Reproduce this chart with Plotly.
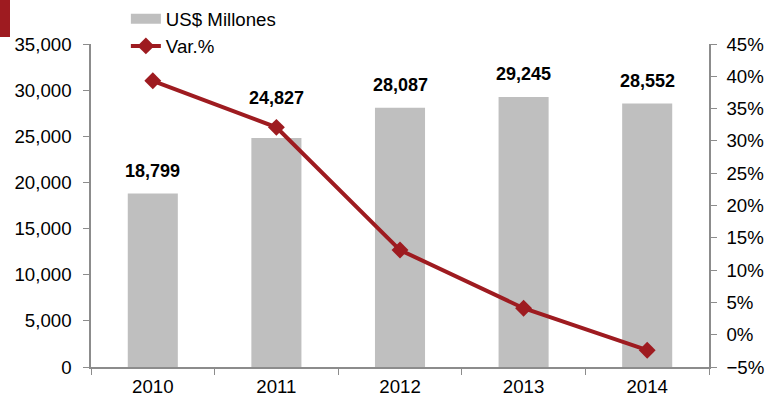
import plotly.graph_objects as go

years = ["2010", "2011", "2012", "2013", "2014"]
usd_millones = [18799, 24827, 28087, 29245, 28552]
var_pct = [39.3, 32.1, 13.1, 4.1, -2.4]
bar_labels = ["18,799", "24,827", "28,087", "29,245", "28,552"]

# style: extra lift (px) for labels that would collide with the line
LABEL_LIFT = [0, 17, 0, 0, 0]

RED = "#9E1B20"
GRAY = "#BFBFBF"
AXIS = "#8C8C8C"
FONT = "Liberation Sans, Arial, sans-serif"
FS = 18.67

fig = go.Figure()
fig.add_trace(go.Bar(
    x=years, y=usd_millones, name="US$ Millones",
    marker=dict(color=GRAY, line=dict(width=0)),
    width=0.405, showlegend=False,
))
# legend swatch for bars (wide gray bar like the reference), on a hidden axis
fig.add_trace(go.Scatter(
    x=[None], y=[None], name="US$ Millones", mode="lines",
    xaxis="x2", yaxis="y3",
    line=dict(color=GRAY, width=11), showlegend=True, hoverinfo="skip",
))
fig.add_trace(go.Scatter(
    x=years, y=var_pct, name="Var.%", yaxis="y2",
    mode="lines+markers",
    line=dict(color=RED, width=4),
    marker=dict(symbol="diamond", size=13, color=RED),
))

for i, (v, lab) in enumerate(zip(usd_millones, bar_labels)):
    fig.add_annotation(x=i, y=v, xref="x", yref="y", text=f"<b>{lab}</b>",
                       showarrow=False, yanchor="bottom",
                       yshift=11 + LABEL_LIFT[i],
                       font=dict(family=FONT, size=18, color="#000000"))

fig.update_layout(
    width=777, height=406,
    margin=dict(l=91, r=68, t=44, b=39, autoexpand=False),
    paper_bgcolor="white", plot_bgcolor="white",
    font=dict(family=FONT, size=FS, color="#000000"),
    showlegend=True,
    legend=dict(xref="container", yref="container", x=0.162, y=1.0,
                xanchor="left", yanchor="top",
                orientation="v", bgcolor="rgba(0,0,0,0)",
                font=dict(size=FS), tracegroupgap=0, itemwidth=30),
    xaxis=dict(type="category", range=[-0.5, 4.5],
               showgrid=False, showline=True,
               linecolor=AXIS, linewidth=1.5, ticks="outside",
               tickson="boundaries", ticklen=6, tickcolor=AXIS,
               tickfont=dict(size=FS), automargin=False,
               ticklabelstandoff=2),
    xaxis2=dict(visible=False, overlaying="x", range=[0, 1]),
    yaxis3=dict(visible=False, overlaying="y", range=[0, 1]),
    yaxis=dict(range=[0, 35000], dtick=5000, tickformat=",d",
               showgrid=False, showline=True, linecolor=AXIS, linewidth=1.5,
               ticks="outside", ticklen=6, tickcolor=AXIS, zeroline=False,
               tickfont=dict(size=FS), automargin=False,
               ticklabelstandoff=8),
    yaxis2=dict(range=[-5, 45], dtick=5, ticksuffix="%", overlaying="y",
                side="right", showgrid=False, showline=True, linecolor=AXIS,
                linewidth=1.5, ticks="outside", ticklen=6, tickcolor=AXIS,
                zeroline=False, tickfont=dict(size=FS), automargin=False,
                ticklabelstandoff=6),
    shapes=[dict(type="rect", xref="paper", yref="paper",
                 x0=-91/618, x1=-81/618, y0=1 + (44-37)/323, y1=1 + 44/323,
                 fillcolor=RED, line=dict(width=0), layer="above")],
)

fig.write_html("out.html", config={"displayModeBar": False},
               post_script="document.body.style.margin='0';document.body.style.overflow='hidden';")
